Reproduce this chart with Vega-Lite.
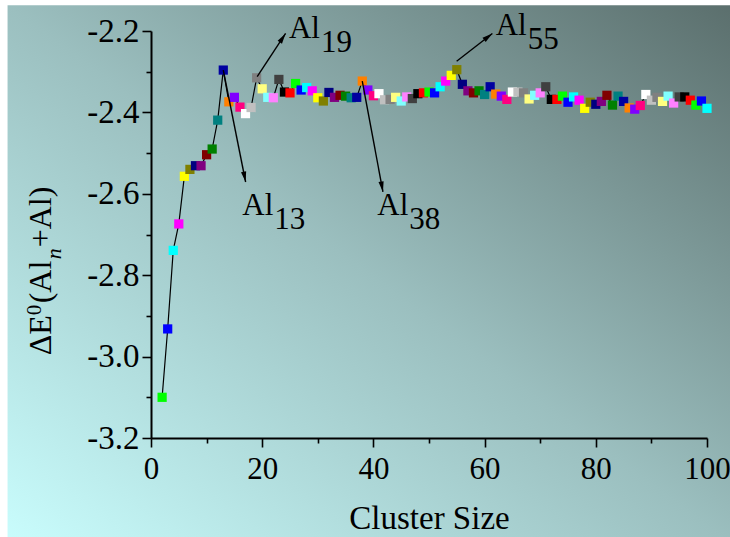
{
  "$schema": "https://vega.github.io/schema/vega-lite/v6.json",
  "width": 556,
  "height": 407,
  "padding": {"left": 7, "top": 5, "right": 0, "bottom": 0},
  "background": "white",
  "config": {
    "view": {"stroke": null},
    "font": "Liberation Serif",
    "axis": {"grid": false, "zindex": 1}
  },
  "resolve": {"axis": {"x": "independent", "y": "independent"}},
  "datasets": {
    "pts": [
      {"n":2,"e":-3.100,"c":"Green"},{"n":3,"e":-2.932,"c":"Blue"},{"n":4,"e":-2.739,"c":"Cyan"},{"n":5,"e":-2.674,"c":"Magenta"},
      {"n":6,"e":-2.557,"c":"Yellow"},{"n":7,"e":-2.540,"c":"DarkYellow"},{"n":8,"e":-2.531,"c":"Navy"},{"n":9,"e":-2.531,"c":"Purple"},
      {"n":10,"e":-2.504,"c":"Wine"},{"n":11,"e":-2.490,"c":"Olive"},{"n":12,"e":-2.419,"c":"DarkCyan"},{"n":13,"e":-2.296,"c":"Royal"},
      {"n":14,"e":-2.374,"c":"Orange"},{"n":15,"e":-2.363,"c":"Violet"},{"n":16,"e":-2.387,"c":"Pink"},{"n":17,"e":-2.403,"c":"White"},
      {"n":18,"e":-2.388,"c":"LTGray"},{"n":19,"e":-2.315,"c":"Gray"},{"n":20,"e":-2.342,"c":"LTYellow"},{"n":21,"e":-2.363,"c":"LTCyan"},
      {"n":22,"e":-2.364,"c":"LTMagenta"},{"n":23,"e":-2.319,"c":"DarkGray"},{"n":24,"e":-2.350,"c":"Black"},{"n":25,"e":-2.352,"c":"Red"},
      {"n":26,"e":-2.329,"c":"Green"},{"n":27,"e":-2.345,"c":"Blue"},{"n":28,"e":-2.339,"c":"Cyan"},{"n":29,"e":-2.347,"c":"Magenta"},
      {"n":30,"e":-2.364,"c":"Yellow"},{"n":31,"e":-2.372,"c":"DarkYellow"},{"n":32,"e":-2.351,"c":"Navy"},{"n":33,"e":-2.363,"c":"Purple"},
      {"n":34,"e":-2.358,"c":"Wine"},{"n":35,"e":-2.360,"c":"Olive"},{"n":36,"e":-2.364,"c":"DarkCyan"},{"n":37,"e":-2.363,"c":"Royal"},
      {"n":38,"e":-2.323,"c":"Orange"},{"n":39,"e":-2.345,"c":"Violet"},{"n":40,"e":-2.359,"c":"Pink"},{"n":41,"e":-2.354,"c":"White"},
      {"n":42,"e":-2.369,"c":"LTGray"},{"n":43,"e":-2.368,"c":"Gray"},{"n":44,"e":-2.363,"c":"LTYellow"},{"n":45,"e":-2.372,"c":"LTCyan"},
      {"n":46,"e":-2.362,"c":"LTMagenta"},{"n":47,"e":-2.366,"c":"DarkGray"},{"n":48,"e":-2.354,"c":"Black"},{"n":49,"e":-2.352,"c":"Red"},
      {"n":50,"e":-2.350,"c":"Green"},{"n":51,"e":-2.352,"c":"Blue"},{"n":52,"e":-2.337,"c":"Cyan"},{"n":53,"e":-2.323,"c":"Magenta"},
      {"n":54,"e":-2.309,"c":"Yellow"},{"n":55,"e":-2.295,"c":"DarkYellow"},{"n":56,"e":-2.331,"c":"Navy"},{"n":57,"e":-2.347,"c":"Purple"},
      {"n":58,"e":-2.352,"c":"Wine"},{"n":59,"e":-2.347,"c":"Olive"},{"n":60,"e":-2.356,"c":"DarkCyan"},{"n":61,"e":-2.337,"c":"Royal"},
      {"n":62,"e":-2.355,"c":"Orange"},{"n":63,"e":-2.360,"c":"Violet"},{"n":64,"e":-2.368,"c":"Pink"},{"n":65,"e":-2.350,"c":"White"},
      {"n":66,"e":-2.350,"c":"LTGray"},{"n":67,"e":-2.352,"c":"Gray"},{"n":68,"e":-2.367,"c":"LTYellow"},{"n":69,"e":-2.358,"c":"LTCyan"},
      {"n":70,"e":-2.352,"c":"LTMagenta"},{"n":71,"e":-2.337,"c":"DarkGray"},{"n":72,"e":-2.368,"c":"Black"},{"n":73,"e":-2.368,"c":"Red"},
      {"n":74,"e":-2.360,"c":"Green"},{"n":75,"e":-2.375,"c":"Blue"},{"n":76,"e":-2.362,"c":"Cyan"},{"n":77,"e":-2.370,"c":"Magenta"},
      {"n":78,"e":-2.390,"c":"Yellow"},{"n":79,"e":-2.375,"c":"DarkYellow"},{"n":80,"e":-2.380,"c":"Navy"},{"n":81,"e":-2.373,"c":"Purple"},
      {"n":82,"e":-2.358,"c":"Wine"},{"n":83,"e":-2.382,"c":"Olive"},{"n":84,"e":-2.360,"c":"DarkCyan"},{"n":85,"e":-2.373,"c":"Royal"},
      {"n":86,"e":-2.389,"c":"Orange"},{"n":87,"e":-2.392,"c":"Violet"},{"n":88,"e":-2.383,"c":"Pink"},{"n":89,"e":-2.356,"c":"White"},
      {"n":90,"e":-2.370,"c":"LTGray"},{"n":91,"e":-2.363,"c":"Gray"},{"n":92,"e":-2.373,"c":"LTYellow"},{"n":93,"e":-2.360,"c":"LTCyan"},
      {"n":94,"e":-2.377,"c":"LTMagenta"},{"n":95,"e":-2.362,"c":"DarkGray"},{"n":96,"e":-2.362,"c":"Black"},{"n":97,"e":-2.370,"c":"Red"},
      {"n":98,"e":-2.382,"c":"Green"},{"n":99,"e":-2.372,"c":"Blue"},{"n":100,"e":-2.390,"c":"Cyan"}
    ],
    "ann": [
      {"id":"13","tx":13,"ty":-2.296,"hx":17.02,"hy":-2.571,"lx":16.42,"ly":-2.6527},
      {"id":"19","tx":19.1,"ty":-2.312,"hx":24.21,"hy":-2.2061,"lx":24.81,"ly":-2.2184},
      {"id":"38","tx":38,"ty":-2.323,"hx":41.72,"hy":-2.5954,"lx":40.71,"ly":-2.6527},
      {"id":"55","tx":54.97,"ty":-2.2742,"hx":61.4,"hy":-2.2061,"lx":61.99,"ly":-2.2103}
    ]
  },
  "layer": [
    {
      "data": {"values": [{}]},
      "mark": {
        "type": "rect", "clip": false, "strokeWidth": 0,
        "fill": {"gradient": "linear", "x1": 0, "y1": 1, "x2": 1, "y2": 0,
          "stops": [{"offset": 0, "color": "#c9fdfd"}, {"offset": 0.5, "color": "#9bbfbf"}, {"offset": 1, "color": "#5b6f6d"}]}
      },
      "encoding": {
        "x": {"datum": -25.8, "type": "quantitative", "scale": {"domain": [0, 100], "nice": false, "zero": false}, "axis": null},
        "x2": {"datum": 104.3},
        "y": {"datum": -2.1366, "type": "quantitative", "scale": {"domain": [-3.2, -2.2], "nice": false, "zero": false}, "axis": null},
        "y2": {"datum": -3.46}
      }
    },
    {
      "data": {"name": "pts"},
      "mark": {"type": "line", "color": "black", "strokeWidth": 1.2},
      "encoding": {
        "x": {"field": "n", "type": "quantitative",
          "axis": {"orient": "bottom", "zindex": 1, "title": null, "values": [10,30,50,70,90], "labels": false, "domain": false, "tickSize": 5, "tickColor": "black", "tickWidth": 1.6}},
        "y": {"field": "e", "type": "quantitative",
          "axis": {"orient": "left", "zindex": 1, "title": null, "values": [-3.1,-2.9,-2.7,-2.5,-2.3], "labels": false, "domain": false, "tickSize": 5, "tickColor": "black", "tickWidth": 1.6}}
      }
    },
    {
      "data": {"name": "pts"},
      "mark": {"type": "point", "shape": "square", "filled": true, "size": 85, "opacity": 1, "strokeWidth": 0},
      "encoding": {
        "x": {"field": "n", "type": "quantitative",
          "scale": {"domain": [0, 100], "nice": false, "zero": false},
          "axis": {
            "orient": "bottom", "zindex": 1,
            "title": "Cluster Size", "titleFont": "Liberation Serif", "titleFontSize": 33, "titleFontWeight": "normal", "titleColor": "black", "titlePadding": 18,
            "values": [0,20,40,60,80,100],
            "labelFont": "Liberation Serif", "labelFontSize": 31, "labelColor": "black", "labelPadding": 7, "labelOverlap": false, "labelFlush": false,
            "domainColor": "black", "domainWidth": 2, "tickColor": "black", "tickWidth": 1.6, "tickSize": 9
          }
        },
        "y": {"field": "e", "type": "quantitative",
          "scale": {"domain": [-3.2, -2.2], "nice": false, "zero": false},
          "axis": {
            "orient": "left", "zindex": 1,
            "title": null,
            "values": [-3.2,-3.0,-2.8,-2.6,-2.4,-2.2],
            "labelExpr": "replace(format(datum.value, '.1f'), '\u2212', '-')",
            "labelFont": "Liberation Serif", "labelFontSize": 33, "labelColor": "black", "labelPadding": 3, "labelOverlap": false, "labelFlush": false,
            "domainColor": "black", "domainWidth": 2, "tickColor": "black", "tickWidth": 1.6, "tickSize": 9
          }
        },
        "color": {"field": "c", "type": "nominal", "legend": null,
          "scale": {
            "domain": ["Black","Red","Green","Blue","Cyan","Magenta","Yellow","DarkYellow","Navy","Purple","Wine","Olive","DarkCyan","Royal","Orange","Violet","Pink","White","LTGray","Gray","LTYellow","LTCyan","LTMagenta","DarkGray"],
            "range": ["#000000","#ff0000","#00ff00","#0000ff","#00ffff","#ff00ff","#ffff00","#808000","#000080","#800080","#800000","#008000","#008080","#0000a0","#ff8000","#8000ff","#ff0080","#ffffff","#c0c0c0","#808080","#ffff80","#80ffff","#ff80ff","#404040"]
          }
        }
      }
    },
    {
      "data": {"name": "ann"},
      "mark": {"type": "rule", "color": "black", "strokeWidth": 1.4, "clip": false},
      "encoding": {
        "x": {"field": "tx", "type": "quantitative", "axis": null},
        "y": {"field": "ty", "type": "quantitative", "axis": null},
        "x2": {"field": "hx"},
        "y2": {"field": "hy"}
      }
    },
    {
      "data": {"name": "ann"},
      "transform": [{"filter": "datum.id == '13'"}],
      "mark": {"type": "point", "shape": "M0,0L-0.5,2L0.5,2Z", "filled": true, "size": 110, "color": "black", "opacity": 1, "angle": 168.7, "strokeWidth": 0, "clip": false},
      "encoding": {"x": {"field": "hx", "type": "quantitative", "axis": null}, "y": {"field": "hy", "type": "quantitative", "axis": null}}
    },
    {
      "data": {"name": "ann"},
      "transform": [{"filter": "datum.id == '38'"}],
      "mark": {"type": "point", "shape": "M0,0L-0.5,2L0.5,2Z", "filled": true, "size": 110, "color": "black", "opacity": 1, "angle": 169.5, "strokeWidth": 0, "clip": false},
      "encoding": {"x": {"field": "hx", "type": "quantitative", "axis": null}, "y": {"field": "hy", "type": "quantitative", "axis": null}}
    },
    {
      "data": {"name": "ann"},
      "transform": [{"filter": "datum.id == '19'"}],
      "mark": {"type": "point", "shape": "M0,0L-0.5,2L0.5,2Z", "filled": true, "size": 110, "color": "black", "opacity": 1, "angle": 33.7, "strokeWidth": 0, "clip": false},
      "encoding": {"x": {"field": "hx", "type": "quantitative", "axis": null}, "y": {"field": "hy", "type": "quantitative", "axis": null}}
    },
    {
      "data": {"name": "ann"},
      "transform": [{"filter": "datum.id == '55'"}],
      "mark": {"type": "point", "shape": "M0,0L-0.5,2L0.5,2Z", "filled": true, "size": 110, "color": "black", "opacity": 1, "angle": 52.2, "strokeWidth": 0, "clip": false},
      "encoding": {"x": {"field": "hx", "type": "quantitative", "axis": null}, "y": {"field": "hy", "type": "quantitative", "axis": null}}
    },
    {
      "data": {"name": "ann"},
      "mark": {"type": "text", "text": "Al", "align": "left", "baseline": "alphabetic", "font": "Liberation Serif", "fontSize": 31, "color": "black", "clip": false},
      "encoding": {"x": {"field": "lx", "type": "quantitative", "axis": null}, "y": {"field": "ly", "type": "quantitative", "axis": null}}
    },
    {
      "data": {"name": "ann"},
      "mark": {"type": "text", "align": "left", "baseline": "alphabetic", "font": "Liberation Serif", "fontSize": 31, "color": "black", "dx": 32, "dy": 14, "clip": false},
      "encoding": {"x": {"field": "lx", "type": "quantitative", "axis": null}, "y": {"field": "ly", "type": "quantitative", "axis": null}, "text": {"field": "id"}}
    },
    {
      "data": {"values": [{}]},
      "mark": {"type": "text", "text": "ΔE", "angle": 270, "align": "left", "baseline": "alphabetic", "font": "Liberation Serif", "fontSize": 32, "color": "black", "dx": 0, "clip": false},
      "encoding": {"x": {"datum": -18.06, "type": "quantitative", "axis": null}, "y": {"datum": -2.9968, "type": "quantitative", "axis": null}}
    },
    {
      "data": {"values": [{}]},
      "mark": {"type": "text", "text": "0", "angle": 270, "align": "left", "baseline": "alphabetic", "font": "Liberation Serif", "fontSize": 21, "color": "black", "dx": 40, "dy": -10, "clip": false},
      "encoding": {"x": {"datum": -18.06, "type": "quantitative", "axis": null}, "y": {"datum": -2.9968, "type": "quantitative", "axis": null}}
    },
    {
      "data": {"values": [{}]},
      "mark": {"type": "text", "text": "(Al", "angle": 270, "align": "left", "baseline": "alphabetic", "font": "Liberation Serif", "fontSize": 32, "color": "black", "dx": 52, "clip": false},
      "encoding": {"x": {"datum": -18.06, "type": "quantitative", "axis": null}, "y": {"datum": -2.9968, "type": "quantitative", "axis": null}}
    },
    {
      "data": {"values": [{}]},
      "mark": {"type": "text", "text": "n", "angle": 270, "align": "left", "baseline": "alphabetic", "font": "Liberation Serif", "fontStyle": "italic", "fontSize": 22, "color": "black", "dx": 96, "dy": 10, "clip": false},
      "encoding": {"x": {"datum": -18.06, "type": "quantitative", "axis": null}, "y": {"datum": -2.9968, "type": "quantitative", "axis": null}}
    },
    {
      "data": {"values": [{}]},
      "mark": {"type": "text", "text": "+Al)", "angle": 270, "align": "left", "baseline": "alphabetic", "font": "Liberation Serif", "fontSize": 32, "color": "black", "dx": 108, "clip": false},
      "encoding": {"x": {"datum": -18.06, "type": "quantitative", "axis": null}, "y": {"datum": -2.9968, "type": "quantitative", "axis": null}}
    }
  ]
}
